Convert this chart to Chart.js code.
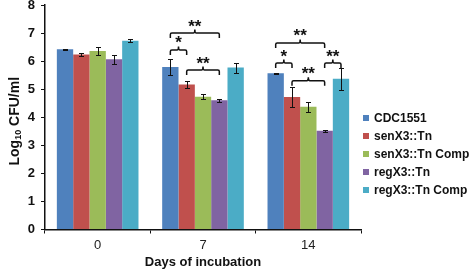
<!DOCTYPE html>
<html>
<head>
<meta charset="utf-8">
<script src="https://cdn.jsdelivr.net/npm/chart.js@4.4.0/dist/chart.umd.min.js"></script>
<style>
html, body { margin: 0; padding: 0; background: #fff; }
#wrap { width: 472px; height: 271px; position: relative; }
</style>
</head>
<body>
<div id="wrap"><canvas id="barChart"></canvas></div>
<script>
// days of incubation (categories)
const days = ['0', '7', '14'];
const strains = ['CDC1551', 'senX3::Tn', 'senX3::Tn Comp', 'regX3::Tn', 'regX3::Tn Comp'];
const colors = ['#4F81BD', '#C0504D', '#9BBB59', '#8064A2', '#4BACC6'];

// log10 CFU/ml, mean values
const cdc1551 = [6.42, 5.79, 5.57];
const senX3 = [6.24, 5.17, 4.72];
const senX3Comp = [6.36, 4.73, 4.37];
const regX3 = [6.07, 4.61, 3.52];
const regX3Comp = [6.73, 5.77, 5.37];

// error bars (+/-)
const cdc1551Err = [0.02, 0.27, 0.02];
const senX3Err = [0.06, 0.11, 0.37];
const senX3CompErr = [0.13, 0.09, 0.18];
const regX3Err = [0.16, 0.05, 0.03];
const regX3CompErr = [0.05, 0.18, 0.40];

const yTicks = [0, 1, 2, 3, 4, 5, 6, 7, 8];

// significance brackets: category index, first bar, last bar, level (data units), label
const brackets = [
    { day: 1, from: 0, to: 3, level: 7.0, label: '**' },
    { day: 1, from: 0, to: 1, level: 6.4, label: '*' },
    { day: 1, from: 1, to: 3, level: 5.68, label: '**' },
    { day: 2, from: 0, to: 3, level: 6.65, label: '**' },
    { day: 2, from: 0, to: 1, level: 5.93, label: '*' },
    { day: 2, from: 3, to: 4, level: 5.93, label: '**' },
    { day: 2, from: 1, to: 3, level: 5.3, label: '**' },
];

const values = [cdc1551, senX3, senX3Comp, regX3, regX3Comp];
const errors = [cdc1551Err, senX3Err, senX3CompErr, regX3Err, regX3CompErr];

const FONT = 'Liberation Sans, Arial, sans-serif';

const errorBars = {
    id: 'errorBars',
    afterDatasetsDraw(chart) {
        const ctx = chart.ctx;
        const y = chart.scales.y;
        ctx.save();
        ctx.strokeStyle = '#111';
        ctx.lineWidth = 1;
        chart.data.datasets.forEach((ds, i) => {
            chart.getDatasetMeta(i).data.forEach((bar, j) => {
                const v = ds.data[j], e = errors[i][j];
                const top = Math.round(y.getPixelForValue(v + e)) + 0.5;
                const bot = Math.round(y.getPixelForValue(v - e)) + 0.5;
                const x = Math.round(bar.x) + 0.5;
                ctx.beginPath();
                ctx.moveTo(x, top); ctx.lineTo(x, bot);
                ctx.moveTo(x - 2.5, top); ctx.lineTo(x + 2.5, top);
                ctx.moveTo(x - 2.5, bot); ctx.lineTo(x + 2.5, bot);
                ctx.stroke();
            });
        });
        ctx.restore();
    }
};

const sigBrackets = {
    id: 'sigBrackets',
    afterDatasetsDraw(chart) {
        const ctx = chart.ctx;
        ctx.save();
        ctx.strokeStyle = '#111';
        ctx.lineWidth = 1.5;
        ctx.fillStyle = '#111';
        ctx.font = 'bold 17px ' + FONT;
        ctx.textAlign = 'center';
        ctx.textBaseline = 'alphabetic';
        brackets.forEach(b => {
            const x1 = chart.getDatasetMeta(b.from).data[b.day].x;
            const x2 = chart.getDatasetMeta(b.to).data[b.day].x;
            const xm = (x1 + x2) / 2;
            const yy = chart.scales.y.getPixelForValue(b.level);
            ctx.beginPath();
            ctx.moveTo(x1, yy + 5);
            ctx.lineTo(x1, yy + 1.5);
            ctx.quadraticCurveTo(x1, yy, x1 + 1.5, yy);
            ctx.lineTo(xm - 1.5, yy);
            ctx.quadraticCurveTo(xm, yy, xm, yy - 3.5);
            ctx.quadraticCurveTo(xm, yy, xm + 1.5, yy);
            ctx.lineTo(x2 - 1.5, yy);
            ctx.quadraticCurveTo(x2, yy, x2, yy + 1.5);
            ctx.lineTo(x2, yy + 5);
            ctx.stroke();
            ctx.fillText(b.label, xm, yy - 1.5);
        });
        ctx.restore();
    }
};

const sideText = {
    id: 'sideText',
    afterDraw(chart) {
        const ctx = chart.ctx;
        const area = chart.chartArea;
        ctx.save();
        ctx.fillStyle = '#111';
        // y axis title with subscript
        ctx.translate(15, (area.top + area.bottom) / 2 + 4);
        ctx.rotate(-Math.PI / 2);
        ctx.textBaseline = 'middle';
        ctx.textAlign = 'left';
        const big = 'bold 14px ' + FONT, small = 'bold 9px ' + FONT;
        ctx.font = big;
        const w1 = ctx.measureText('Log').width;
        const w3 = ctx.measureText(' CFU/ml').width;
        ctx.font = small;
        const w2 = ctx.measureText('10').width;
        let x = -(w1 + w2 + w3) / 2;
        ctx.font = big; ctx.fillText('Log', x, 0); x += w1;
        ctx.font = small; ctx.fillText('10', x, 4); x += w2;
        ctx.font = big; ctx.fillText(' CFU/ml', x, 0);
        ctx.restore();

        // legend
        ctx.save();
        ctx.font = 'bold 12px ' + FONT;
        ctx.textBaseline = 'middle';
        strains.forEach((s, i) => {
            const ly = 118 + i * 18;
            ctx.fillStyle = colors[i];
            ctx.fillRect(area.right + 2, ly - 3, 6, 6);
            ctx.fillStyle = '#111';
            ctx.fillText(s, area.right + 13, ly + 0.5);
        });
        ctx.restore();
    }
};

new Chart(document.getElementById('barChart'), {
    type: 'bar',
    data: {
        labels: days,
        datasets: strains.map((s, i) => ({
            label: s,
            data: values[i],
            backgroundColor: colors[i],
            borderWidth: 0,
            categoryPercentage: 0.775,
            barPercentage: 1
        }))
    },
    options: {
        responsive: true,
        maintainAspectRatio: false,
        animation: false,
        layout: { padding: { left: 0, right: 111, top: 0, bottom: 0 } },
        scales: {
            x: {
                afterFit: s => { s.height = 41.5; },
                grid: { drawOnChartArea: false, drawTicks: true, tickLength: 4, color: '#111', offset: true },
                border: { color: '#111', width: 1.5 },
                ticks: { color: '#222', padding: 4, font: { family: FONT, size: 13 } },
                title: { display: true, text: 'Days of incubation', color: '#111', padding: { top: 0, bottom: 1 }, font: { family: FONT, size: 13, weight: 'bold' } }
            },
            y: {
                min: 0,
                max: 8,
                afterFit: s => { s.width = 45; s.paddingTop = 5; s.paddingBottom = 0; },
                afterBuildTicks: s => { s.ticks = yTicks.map(v => ({ value: v })); },
                grid: { drawOnChartArea: false, drawTicks: true, tickLength: 4, color: '#111' },
                border: { color: '#111', width: 1.5 },
                ticks: { color: '#111', padding: 6, font: { family: FONT, size: 13, weight: 'bold' } }
            }
        },
        plugins: {
            legend: { display: false },
            tooltip: { enabled: false }
        }
    },
    plugins: [errorBars, sigBrackets, sideText]
});
</script>
</body>
</html>
